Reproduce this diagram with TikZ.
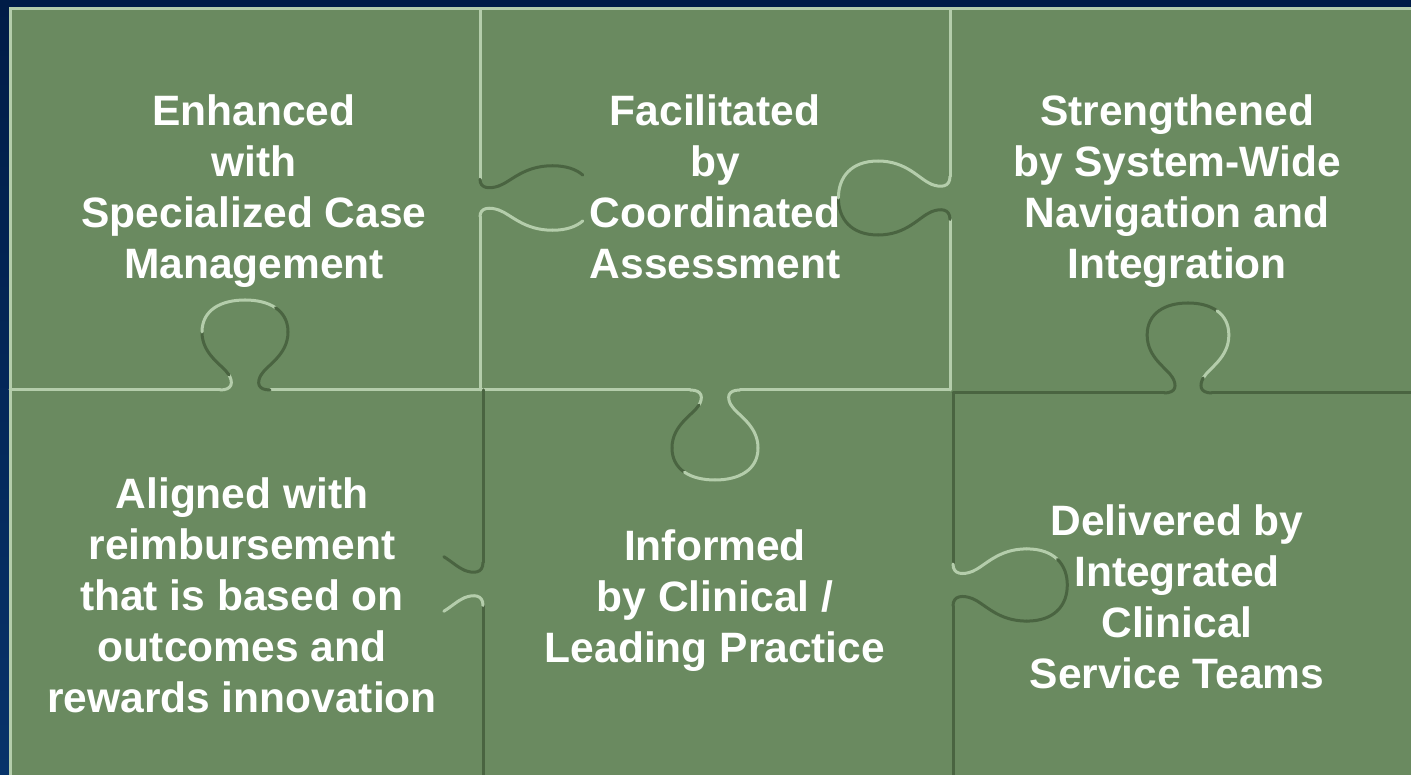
\documentclass[tikz,border=0pt]{standalone}
\usepackage{fontspec}
\setmainfont{Liberation Sans}
\definecolor{bgtop}{HTML}{001C47}
\definecolor{bgbot}{HTML}{07336A}
\definecolor{puz}{HTML}{6A8A60}
\definecolor{lite}{HTML}{B4CDAB}
\definecolor{dark}{HTML}{4A6441}
\tikzset{
  lit/.style={draw=lite, line width=3pt, line cap=round},
  drk/.style={draw=dark, line width=3pt, line cap=round},
  lbl/.style={text=white, align=center, inner sep=0pt,
    font=\fontsize{42.5}{51}\selectfont\bfseries},
}
% puzzle tab segments in local coordinates (u along seam, v into the tab)
\def\sA{(-25,0) .. controls (-12,0) and (-12,8) .. (-16,15)}
\def\sBa{(-16,15) .. controls (-19,20) and (-25.75,25) .. (-31.75,31.6)}
\def\sBb{(-31.75,31.6) .. controls (-37.75,38.25) and (-43,46.5) .. (-43,58)}
\def\sCa{(-43,58) .. controls (-43,69) and (-38.25,77) .. (-30.5,82.25)}
\def\sCb{(-30.5,82.25) .. controls (-22.75,87.5) and (-12,90) .. (0,90)}
\def\sDa{(0,90) .. controls (12,90) and (22.75,87.5) .. (30.5,82.25)}
\def\sDb{(30.5,82.25) .. controls (38.25,77) and (43,69) .. (43,58)}
\def\sEa{(43,58) .. controls (43,46.5) and (37.75,38.25) .. (31.75,31.6)}
\def\sEb{(31.75,31.6) .. controls (25.75,25) and (19,20) .. (16,15)}
\def\sF{(16,15) .. controls (12,8) and (12,0) .. (25,0)}
\begin{document}
\begin{tikzpicture}[x=1pt,y=1pt]
\useasboundingbox (0,0) rectangle (1411,775);
\shade[top color=bgtop, bottom color=bgbot] (0,0) rectangle (1411,775);
\fill[puz] (9,0) rectangle (1411,767);
% outer light edge
\draw[lit, line cap=butt] (10,0) -- (10,766) -- (1411,766);
% straight seams
\draw[lit] (480,766) -- (480,595.75);
\draw[lit] (480,558.25) -- (480,385);
\draw[lit] (950,766) -- (950,598.5);
\draw[lit] (950,555.5) -- (950,385);
\draw[lit] (10,385) -- (220,385);
\draw[lit] (270,385) -- (690,385);
\draw[lit] (740,385) -- (950,385);
\draw[drk] (953,382) -- (1164.25,382);
\draw[drk] (1211.75,382) -- (1411,382);
\draw[drk] (483,385) -- (483,212.5);
\draw[drk] (483,169.5) -- (483,0);
\draw[drk] (953,382) -- (953,211);
\draw[drk] (953,169) -- (953,0);
% tab 1: top row, seam x=480, pointing right
\begin{scope}[shift={(480,577)}, rotate=-90, xscale=0.75, yscale=1.25]
  \draw[drk] \sA; \draw[drk] \sBa; \draw[drk] \sBb; \draw[drk] \sCa;
  \draw[lit] \sDb; \draw[lit] \sEa; \draw[lit] \sEb; \draw[lit] \sF;
\end{scope}
% tab 2: top row, seam x=950, pointing left
\begin{scope}[shift={(950,577)}, rotate=90, xscale=0.86, yscale=1.24]
  \draw[drk] \sA; \draw[drk] \sBa; \draw[drk] \sBb; \draw[drk] \sCa; \draw[drk] \sCb;
  \draw[lit] \sDa; \draw[lit] \sDb; \draw[lit] \sEa; \draw[lit] \sEb; \draw[lit] \sF;
\end{scope}
% tab 3: middle seam, x=245, pointing up
\begin{scope}[shift={(245,385)}]
  \draw[lit] \sA; \draw[drk] \sBa; \draw[drk] \sBb; \draw[lit] \sCa; \draw[lit] \sCb;
  \draw[lit] \sDa; \draw[drk] \sDb; \draw[drk] \sEa; \draw[drk] \sEb; \draw[drk] \sF;
\end{scope}
% tab 4: middle seam, x=715, pointing down
\begin{scope}[shift={(715,385)}, yscale=-1]
  \draw[lit] \sA; \draw[drk] \sBa; \draw[drk] \sBb; \draw[drk] \sCa; \draw[lit] \sCb;
  \draw[lit] \sDa; \draw[lit] \sDb; \draw[lit] \sEa; \draw[lit] \sEb; \draw[lit] \sF;
\end{scope}
% tab 5: middle seam, x=1188, pointing up
\begin{scope}[shift={(1188,382)}, xscale=0.95]
  \draw[drk] \sA; \draw[drk] \sBa; \draw[drk] \sBb; \draw[drk] \sCa; \draw[drk] \sCb;
  \draw[drk] \sDa; \draw[lit] \sDb; \draw[lit] \sEa; \draw[lit] \sEb; \draw[drk] \sF;
\end{scope}
% tab 6: bottom row, seam x=483, pointing left
\begin{scope}[shift={(483,191)}, rotate=90, xscale=0.86, yscale=1.24]
  \draw[lit] \sA; \draw[lit] \sBa;
  \draw[drk] \sEb; \draw[drk] \sF;
\end{scope}
% tab 7: bottom row, seam x=953, pointing right
\begin{scope}[shift={(953,190)}, rotate=-90, xscale=0.84, yscale=1.27]
  \draw[lit] \sA; \draw[lit] \sBa; \draw[lit] \sBb; \draw[lit] \sCa; \draw[drk] \sCb;
  \draw[drk] \sDa; \draw[drk] \sDb; \draw[drk] \sEa; \draw[drk] \sEb; \draw[drk] \sF;
\end{scope}
% labels
\node[lbl] (t1) at (254,583.4) {Enhanced\\with\\Specialized Case\\Management};
\node[lbl] (t2) at (715,587.8) {Facilitated\\by\\Coordinated\\Assessment};
\node[lbl] (t3) at (1177,583.4) {Strengthened\\by System-Wide\\Navigation and\\Integration};
\node[lbl] (t4) at (242,179.8) {Aligned with\\reimbursement\\that is based on\\outcomes and\\rewards innovation};
\node[lbl] (t5) at (715,174.4) {Informed\\by Clinical /\\Leading Practice};
\node[lbl] (t6) at (1177,178.3) {Delivered by\\Integrated\\Clinical\\Service Teams};
\end{tikzpicture}
\end{document}
